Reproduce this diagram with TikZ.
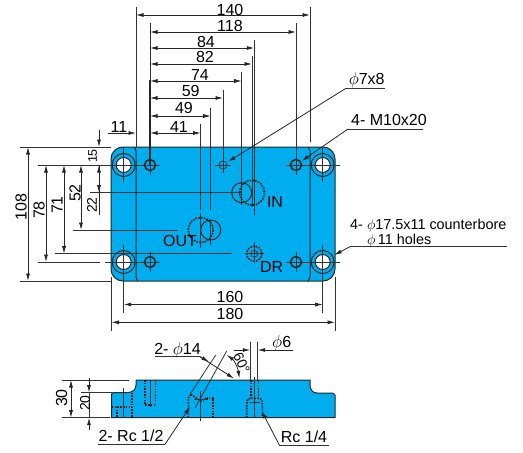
\documentclass[tikz,border=0pt]{standalone}
\usepackage{fontspec}
\setmainfont{Liberation Sans}
\usetikzlibrary{arrows.meta}

\tikzset{
  dimline/.style={line width=0.8pt, black!85, {Latex[length=7.5pt,width=4pt]}-{Latex[length=7.5pt,width=4pt]}},
  tipend/.style={line width=0.8pt, black!85, -{Latex[length=7.5pt,width=4pt]}},
  extline/.style={line width=0.8pt, black!80},
  edgeline/.style={line width=1pt, black!85},
  hidden/.style={line width=1.6pt, black!90, dash pattern=on 1.6pt off 1.2pt},
  label/.style={font=\fontsize{16}{16}\selectfont, inner sep=0pt},
  smalllabel/.style={font=\fontsize{14}{14}\selectfont, inner sep=0pt},
  notelabel/.style={font=\fontsize{14.4}{15}\selectfont, inner sep=0pt}
}
\definecolor{plateblue}{RGB}{0,174,239}

\begin{document}
\begin{tikzpicture}[x=1pt, y=-1pt]
    \useasboundingbox (0,0) rectangle (523,453);

    % Hole centres
    \coordinate (boreTL) at (123.7,165);
    \coordinate (boreTR) at (322.7,165);
    \coordinate (boreBL) at (123.7,262);
    \coordinate (boreBR) at (322.7,262);
    \coordinate (tapTL) at (150,165);
    \coordinate (tapTR) at (296,165);
    \coordinate (tapBL) at (150,262);
    \coordinate (tapBR) at (296,262);
    \coordinate (small) at (223,165);
    \coordinate (portIN) at (252,192.7);
    \coordinate (oringIN) at (241.7,192.7);
    \coordinate (portOUT) at (200.7,230);
    \coordinate (oringOUT) at (210.7,230);
    \coordinate (portDR) at (254.3,253.7);

    % Plate, top view
    \draw[edgeline, fill=plateblue, rounded corners=12pt] (111,147) rectangle (335,281);
    \draw[edgeline, rounded corners=2pt] (134,147) -- (136,149) -- (136,279) -- (138,281);
    \draw[edgeline, rounded corners=2pt] (308,147) -- (310,149) -- (310,279) -- (308,281);

    % Counterbored holes
    \foreach \hole in {boreTL,boreTR,boreBL,boreBR} {
      \draw[edgeline] (\hole) circle (11.5);
      \draw[edgeline, fill=white] (\hole) circle (7.5);
      \draw[extline] ([xshift=-17pt]\hole) -- ([xshift=17pt]\hole);
      \draw[extline] ([yshift=-17pt]\hole) -- ([yshift=17pt]\hole);
    }

    % Tapped holes
    \foreach \hole in {tapTL,tapTR,tapBL,tapBR} {
      \draw[line width=1.6pt, black!85] (\hole) circle (5.5);
      \draw[extline] ([xshift=-10pt]\hole) -- ([xshift=10pt]\hole);
      \draw[extline] ([yshift=-10pt]\hole) -- ([yshift=10pt]\hole);
    }

    % Small pin hole
    \draw[extline] (small) circle (4);
    \draw[extline] ([xshift=-8pt]small) -- ([xshift=8pt]small);
    \draw[extline] ([yshift=-8pt]small) -- ([yshift=8pt]small);

    % Ports
    \draw[hidden] (portIN) circle (12.5);
    \draw[edgeline] (oringIN) circle (10);
    \draw[hidden] (portOUT) circle (12.5);
    \draw[edgeline] (oringOUT) circle (10);
    \draw[hidden] (portDR) circle (7.5);
    \draw[extline] (portDR) circle (3.5);
    \draw[extline] (244.5,253.7) -- (264,253.7);
    \draw[extline] (254.3,242) -- (254.3,263);

    \node[label] (lblIN) at (275,202) {IN};
    \node[label] (lblOUT) at (180,240.7) {OUT};
    \node[label] (lblDR) at (271.7,267) {DR};

    % Extension lines from the top
    \draw[extline] (136,7) -- (136,147);
    \draw[extline] (310,7) -- (310,142);
    \draw[extline] (150,23) -- (150,80);
    \draw[line width=1.2pt, black!85] (150,80) -- (tapTL);
    \draw[extline] (296,23) -- (tapTR);
    \draw[extline] (254.3,40) -- (254.3,215);
    \draw[extline] (252,56) -- (252,207);
    \draw[extline] (241.7,72) -- (241.7,205);
    \draw[extline] (223,90) -- (small);
    \draw[extline] (210.7,108) -- (210.7,210);
    \draw[extline] (210.7,220) -- (210.7,245);
    \draw[extline] (200.7,124) -- (200.7,210);
    \draw[extline] (200.7,213) -- (200.7,248);

    % Dimensions across the top
    \draw[dimline] (136,15) -- (310,15);
    \draw[dimline] (150,32) -- (296,32);
    \draw[dimline] (150,48) -- (254.3,48);
    \draw[dimline] (150,64) -- (252,64);
    \draw[dimline] (150,81) -- (241.7,81);
    \draw[dimline] (150,98) -- (223,98);
    \draw[dimline] (150,116) -- (210.7,116);
    \draw[dimline] (150,133) -- (200.7,133);
    \draw[tipend] (108,133) -- (136,133);
    \node[label] (dim140) at (230,10) {140};
    \node[label] (dim118) at (230,26) {118};
    \node[label] (dim84) at (206,42) {84};
    \node[label] (dim82) at (205,57) {82};
    \node[label] (dim74) at (200,75) {74};
    \node[label] (dim59) at (190.7,91) {59};
    \node[label] (dim49) at (184,108) {49};
    \node[label] (dim41) at (179,127) {41};
    \node[label] (dim11) at (119,127) {11};

    % Extension lines from the left
    \draw[extline] (20,147) -- (111,147);
    \draw[extline] (20,281) -- (111,281);
    \draw[extline] (38,165) -- (boreTL);
    \draw[extline] (38,262) -- (100,262);
    \draw[extline] (105,262) -- (boreBL);
    \draw[extline] (55,253.7) -- (232,253.7);
    \draw[extline] (73,230) -- (178,230);
    \draw[extline] (90,192.7) -- (oringIN);

    % Dimensions down the left side
    \draw[dimline] (28,147) -- (28,281);
    \draw[dimline] (46,165) -- (46,262);
    \draw[dimline] (64,165) -- (64,253.7);
    \draw[dimline] (81,165) -- (81,230);
    \draw[tipend] (99,130) -- (99,147);
    \draw[tipend] (99,215) -- (99,165);
    \draw[tipend] (99,165) -- (99,192.7);
    \node[label, rotate=90] (dim108) at (21,207) {108};
    \node[label, rotate=90] (dim78) at (39,210) {78};
    \node[label, rotate=90] (dim71) at (57,205) {71};
    \node[label, rotate=90] (dim52) at (75,193) {52};
    \node[smalllabel, rotate=90] (dim22) at (92,205) {22};
    \node[smalllabel, rotate=90, font=\fontsize{12.5}{13}\selectfont] (dim15) at (92.7,156) {15};

    % Dimensions below the plate
    \draw[extline] (123.7,275) -- (123.7,313);
    \draw[extline] (322.7,275) -- (322.7,313);
    \draw[extline] (111.5,277) -- (111.5,331);
    \draw[extline] (335,277) -- (335,331);
    \draw[dimline] (123.7,304.5) -- (322.7,304.5);
    \draw[dimline] (111.5,322.3) -- (335,322.3);
    \node[label] (dim160) at (230,296.7) {160};
    \node[label] (dim180) at (230,314) {180};

    % Notes with leaders
    \node[label] (note7x8) at (366.7,80) {$\phi$7x8};
    \coordinate (shelf7a) at (346,88.3);
    \coordinate (shelf7b) at (385,88.3);
    \draw[extline] (shelf7b) -- (shelf7a);
    \draw[tipend] (shelf7a) -- (228,161.7);

    \node[label] (noteM10) at (389,120) {4- M10x20};
    \coordinate (shelfMa) at (348,129);
    \coordinate (shelfMb) at (423,129);
    \draw[extline] (shelfMb) -- (shelfMa);
    \draw[tipend] (shelfMa) -- (301.7,161);

    \node[notelabel, anchor=west] (noteBore) at (350,226) {4- $\phi$17.5x11 counterbore};
    \node[notelabel, anchor=west] (noteHoles) at (367,241) {$\phi$\,11 holes};
    \coordinate (shelfBa) at (350,246.7);
    \coordinate (shelfBb) at (507,246.7);
    \draw[extline] (shelfBb) -- (shelfBa);
    \draw[tipend] (shelfBa) -- (334.3,255);

    % Side view
    \draw[edgeline, fill=plateblue] (111.7,417.7) -- (111.7,394) -- (113,392.5) -- (128,392.5)
      .. controls (133,392.5) and (136,389) .. (136,385) -- (136,380) -- (310,380) -- (310,385)
      .. controls (310,390) and (313,393) .. (317,393) -- (333,393) -- (335,395) -- (335,417.7) -- cycle;

    % Hidden features, side view
    \draw[hidden] (145,380) -- (145,405) -- (155.5,405) -- (155.5,380);
    \draw[extline] (150,380) -- (150,407);
    \draw[hidden] (111.7,406.7) -- (131.7,406.7);
    \draw[hidden] (116.7,406.7) -- (116.7,417.7);
    \draw[hidden] (131.7,392.5) -- (131.7,417.7);
    \draw[extline] (123.7,388) -- (123.7,417.7);
    \draw[hidden] (188.3,417.7) -- (188.3,398) -- (191,394.5);
    \draw[hidden] (213,417.7) -- (213,398) -- (207,398);
    \draw[hidden] (191,394.5) -- (200.7,401) -- (207,398);
    \draw[extline] (200.7,391) -- (200.7,421);
    \draw[extline] (194,399) -- (208,399);
    \draw[hidden] (251,380) -- (251,398);
    \draw[hidden] (258.3,380) -- (258.3,398);
    \draw[hidden] (246.7,417.7) -- (246.7,402) .. controls (246.7,399) and (249,398.3) .. (251,398.3)
      -- (258.3,398.3) .. controls (260,398.3) and (262.3,399) .. (262.3,402) -- (262.3,417.7);
    \draw[extline] (254.3,377) -- (254.3,418);
    \draw[extline] (249,402) -- (260,402);

    % Dimensions, side view
    \draw[extline] (62,380) -- (129,380);
    \draw[extline] (62,417.7) -- (110,417.7);
    \draw[extline] (81,392.5) -- (111.7,392.5);
    \draw[dimline] (71,380) -- (71,417.7);
    \draw[tipend] (89,377.7) -- (89,392.5);
    \draw[tipend] (89,430) -- (89,417.7);
    \draw[extline] (89,392.5) -- (89,417.7);
    \node[label, rotate=90] (dim30) at (61.7,398) {30};
    \node[smalllabel, rotate=90] (dim20) at (85,403) {20};

    % Angled port dimensions
    \draw[extline] (190,394.3) -- (215.7,355);
    \draw[extline] (195,408) -- (226.7,351);
    \node[label] (note14) at (177.5,350) {2- $\phi$14};
    \coordinate (shelf14a) at (155,356.7);
    \coordinate (shelf14b) at (200,356.7);
    \draw[extline] (shelf14a) -- (shelf14b);
    \draw[tipend] (shelf14b) -- (234,378.5);
    \draw[tipend] (shelf14b) -- (209,361.7);
    \draw[dimline] (226.7,355) .. controls (234,360) and (238,368) .. (239.3,378.3);
    \node[smalllabel, rotate=-65] (dim60) at (241.7,363) {60°};

    % Small bore above the drain port
    \draw[extline] (250.3,342) -- (250.3,380);
    \draw[extline] (257.7,342) -- (257.7,380);
    \coordinate (shelf6) at (292.7,350);
    \draw[tipend] (234,350) -- (250.3,350);
    \draw[tipend] (shelf6) -- (257.7,350);
    \node[label] (note6) at (281.7,343) {$\phi$6};

    % Rc leaders
    \node[label] (noteRcHalf) at (131,436) {2- Rc 1/2};
    \coordinate (shelfHa) at (98,444.3);
    \coordinate (shelfHb) at (165,444.3);
    \draw[extline] (shelfHa) -- (shelfHb);
    \draw[tipend] (shelfHb) -- (190,406.7);

    \node[label] (noteRcQuart) at (304,437) {Rc 1/4};
    \coordinate (shelfQa) at (279.3,445);
    \coordinate (shelfQb) at (329,445);
    \draw[extline] (shelfQb) -- (shelfQa);
    \draw[tipend] (shelfQa) -- (261.7,411);
\end{tikzpicture}
\end{document}
